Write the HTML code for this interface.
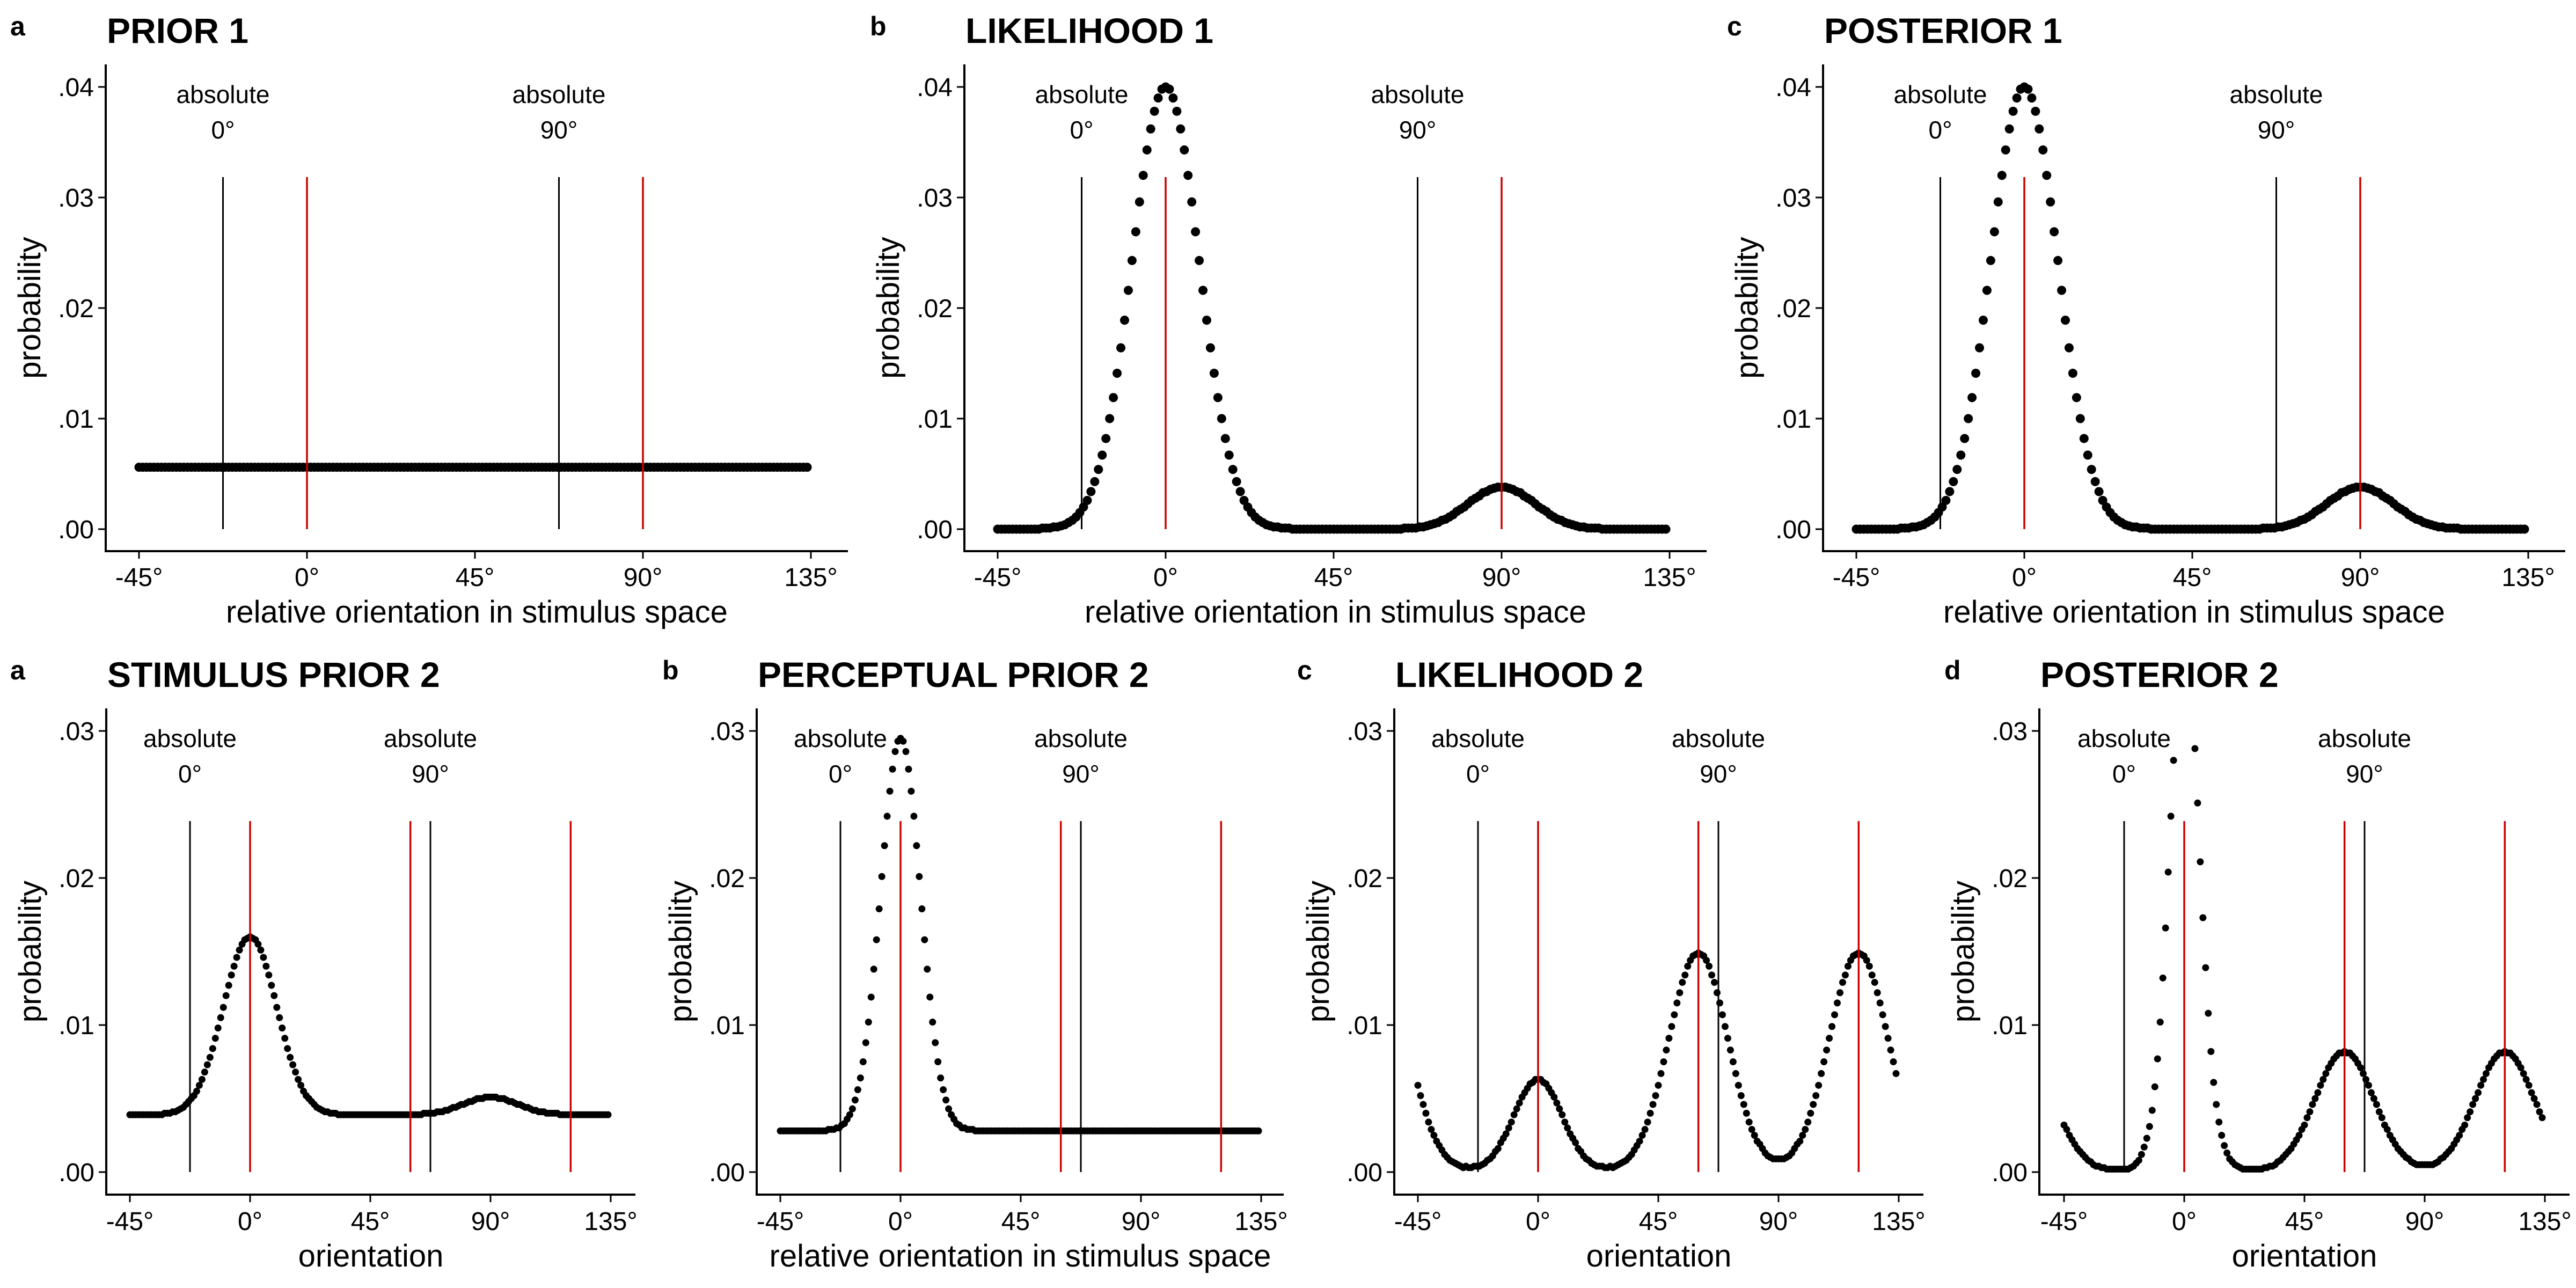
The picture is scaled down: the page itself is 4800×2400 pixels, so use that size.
<!DOCTYPE html>
<html>
<head>
<meta charset="utf-8">
<style>
  html,body{margin:0;padding:0;background:#fff;}
  svg{display:block;font-family:"Liberation Sans", Arial, sans-serif;}
</style>
</head>
<body>
<svg id="chart" width="4800" height="2400" viewBox="0 0 4800 2400" xmlns="http://www.w3.org/2000/svg">
  <rect x="0" y="0" width="4800" height="2400" fill="#ffffff"/>
</svg>
<script>
// ---------- data (probability values in units of 0.0001) ----------
const VALUE_UNIT = 1e-4;
const orientations = Array.from({length:180}, (_, i) => i - 45);

const xTickValues = [-45, 0, 45, 90, 135];
const xTickLabels = ['-45°', '0°', '45°', '90°', '135°'];
const topYTickValues = [0, 0.01, 0.02, 0.03, 0.04];
const topYTickLabels = ['.00', '.01', '.02', '.03', '.04'];
const bottomYTickValues = [0, 0.01, 0.02, 0.03];
const bottomYTickLabels = ['.00', '.01', '.02', '.03'];
const absoluteLineOrientations = [-22.5, 67.5];
const absoluteLineLabels = ['0°', '90°'];
const redLinesRow1 = [0, 90];
const redLinesRow2 = [0, 60, 120];

const prior1Values = [
56,56,56,56,56,56,56,56,56,56, 56,56,56,56,56,56,56,56,56,56,
56,56,56,56,56,56,56,56,56,56, 56,56,56,56,56,56,56,56,56,56,
56,56,56,56,56,56,56,56,56,56, 56,56,56,56,56,56,56,56,56,56,
56,56,56,56,56,56,56,56,56,56, 56,56,56,56,56,56,56,56,56,56,
56,56,56,56,56,56,56,56,56,56, 56,56,56,56,56,56,56,56,56,56,
56,56,56,56,56,56,56,56,56,56, 56,56,56,56,56,56,56,56,56,56,
56,56,56,56,56,56,56,56,56,56, 56,56,56,56,56,56,56,56,56,56,
56,56,56,56,56,56,56,56,56,56, 56,56,56,56,56,56,56,56,56,56,
56,56,56,56,56,56,56,56,56,56, 56,56,56,56,56,56,56,56,56,56];

const likelihood1Values = [
0,0,0,0,0,0,0,0,0,0,0,0,
1,1,1,2,2,3,4,6,8,11,15,20,26,34,43,54,67,82,100,119,141,164,189,216,243,269,296,320,343,362,378,390,398,
400,
398,390,378,362,343,320,296,269,243,216,189,164,141,119,100,82,67,54,43,34,26,20,15,11,8,6,4,3,2,2,1,1,1,
0,0,0,0,0,0,0,0,0,0,0,0,0,0,0,0,0,0,0,0,0,0,0,0,0,0,0,0,0,0,
1,1,1,1,2,2,3,4,5,6,8,9,11,13,16,18,20,23,26,28,30,33,34,36,37,38,38,
38,37,36,34,33,30,28,26,23,20,18,16,13,11,9,8,6,5,4,3,2,2,1,1,1,1,
0,0,0,0,0,0,0,0,0,0,0,0,0,0,0,0,0,0];

const posterior1Values = [
0,0,0,0,0,0,0,0,0,0,0,0,
1,1,1,2,2,3,4,6,8,11,15,20,26,34,43,54,67,82,100,119,141,164,189,216,243,269,296,320,343,362,378,390,398,
400,
398,390,378,362,343,320,296,269,243,216,189,164,141,119,100,82,67,54,43,34,26,20,15,11,8,6,4,3,2,2,1,1,1,
0,0,0,0,0,0,0,0,0,0,0,0,0,0,0,0,0,0,0,0,0,0,0,0,0,0,0,0,0,0,
1,1,1,1,2,2,3,4,5,6,8,9,11,13,16,18,20,23,26,28,30,33,34,36,37,38,38,
38,37,36,34,33,30,28,26,23,20,18,16,13,11,9,8,6,5,4,3,2,2,1,1,1,1,
0,0,0,0,0,0,0,0,0,0,0,0,0,0,0,0,0,0];

const stimulusPrior2Values = [
39,39,39,39,39,39,39,39,39,39,39,39,39,
40,40,40,41,41,42,43,44,46,48,50,52,55,59,63,68,73,78,84,91,98,105,112,120,127,134,140,146,151,155,158,159,
160,
159,158,155,151,146,140,134,127,120,112,105,98,91,84,78,73,68,63,59,55,52,50,48,46,44,43,42,41,41,40,40,40,
39,39,39,39,39,39,39,39,39,39,39,39,39,39,39,39,39,39,39,39,39,39,39,39,39,39,39,39,39,39,39,
39,40,40,40,40,40,41,41,41,42,42,43,44,44,45,46,46,47,48,48,49,50,50,50,51,51,51,
51,51,50,50,50,49,48,48,47,46,46,45,44,44,43,42,42,41,41,41,40,40,40,40,40,39,
39,39,39,39,39,39,39,39,39,39,39,39,39,39,39,39,39,39];

const perceptualPrior2Values = [
28,28,28,28,28,28,28,28,28,28,28,28,28,28,28,28,28,28,
29,29,29,30,30,32,33,36,39,43,49,56,64,75,88,102,119,138,158,179,201,222,242,259,274,286,293,
295,
293,286,274,259,242,222,201,179,158,138,119,102,88,75,64,56,49,43,39,36,33,32,30,30,29,29,29,
28,28,28,28,28,28,28,28,28,28,28,28,28,28,28,28,28,28,28,28,28,28,28,28,28,28,28,28,28,28,
28,28,28,28,28,28,28,28,28,28,28,28,28,28,28,28,28,28,28,28,28,28,28,28,28,28,28,28,28,28,
28,28,28,28,28,28,28,28,28,28,28,28,28,28,28,28,28,28,28,28,28,28,28,28,28,28,28,28,28,28,
28,28,28,28,28,28,28,28,28,28,28,28,28,28,28,28,28];

const likelihood2Values = [
59,52,46,40,34,29,25,21,18,15,12,10,8,7,6,5,4,3,4,3,3,4,4,4,
5,6,8,9,11,14,16,20,23,26,30,34,39,43,47,51,54,57,60,61,63,63,
63,61,60,57,54,51,47,43,39,34,30,26,23,20,16,14,11,9,8,6,5,4,4,4,3,3,4,3,4,5,
6,7,8,10,12,15,18,21,25,29,34,40,46,52,59,67,75,83,91,99,107,115,122,129,134,140,144,147,148,149,
148,147,144,140,134,129,122,115,107,99,91,83,75,67,59,52,46,40,34,29,25,21,19,16,13,11,10,9,9,9,
9,9,10,11,13,16,19,21,25,29,34,40,46,52,59,67,75,83,91,99,107,115,122,129,134,140,144,147,148,149,
148,147,144,140,134,129,122,115,107,99,91,83,75,67];

const posterior2Values = [
32,29,25,22,19,16,14,12,10,8,7,5,4,4,3,3,2,2,
2,2,2,2,2,2,
2,3,4,6,8,12,17,
23,31,42,58,77,102,132,166,204,242,280,
330,345,355,360,355,345,330,
288,251,211,173,139,108,82,61,46,34,25,
18,13,9,7,5,4,3,
2,2,2,2,2,2,
2,2,3,
3,4,4,5,7,8,10,12,14,16,19,22,25,29,32,37,41,46,50,54,59,63,67,71,74,77,79,81,81,82,
81,81,79,77,74,71,67,63,59,54,50,46,41,37,32,29,25,22,19,16,14,12,10,9,7,6,5,5,5,5,
5,5,5,6,7,9,10,12,14,16,19,22,25,29,32,37,41,46,50,54,59,63,67,71,74,77,79,81,81,82,
81,81,79,77,74,71,67,63,59,54,50,46,41,37];

// ---------- layout ----------
const TOP = {oy:0, axisTop:120, axisBottom:1027, zeroY:986, yPer:20600, ymax:0.0422, r:8.5, lineTop:330};
const BOT = {oy:1200, axisTop:120, axisBottom:1026, zeroY:984, yPer:27400, ymax:0.0316, r:6.5, lineTop:330};

const panels = [
  {id:'prior-1', letter:'a', letterX:19, title:'PRIOR 1', ox:0, row:TOP, left:197, x0:259, deg:313/45, right:1580, xTitle:'relative orientation in stimulus space', values:prior1Values, reds:redLinesRow1, yv:topYTickValues, yl:topYTickLabels},
  {id:'likelihood-1', letter:'b', letterX:21, title:'LIKELIHOOD 1', ox:1600, row:TOP, left:197, x0:259, deg:313/45, right:1580, xTitle:'relative orientation in stimulus space', values:likelihood1Values, reds:redLinesRow1, yv:topYTickValues, yl:topYTickLabels},
  {id:'posterior-1', letter:'c', letterX:18, title:'POSTERIOR 1', ox:3200, row:TOP, left:197, x0:259, deg:313/45, right:1580, xTitle:'relative orientation in stimulus space', values:posterior1Values, reds:redLinesRow1, yv:topYTickValues, yl:topYTickLabels},
  {id:'stimulus-prior-2', letter:'a', letterX:19, title:'STIMULUS PRIOR 2', ox:0, row:BOT, left:198, x0:242, deg:224/45, right:1184, xTitle:'orientation', values:stimulusPrior2Values, reds:redLinesRow2, yv:bottomYTickValues, yl:bottomYTickLabels},
  {id:'perceptual-prior-2', letter:'b', letterX:34, title:'PERCEPTUAL PRIOR 2', ox:1200, row:BOT, left:210, x0:254, deg:224/45, right:1192, xTitle:'relative orientation in stimulus space', values:perceptualPrior2Values, reds:redLinesRow2, yv:bottomYTickValues, yl:bottomYTickLabels},
  {id:'likelihood-2', letter:'c', letterX:17, title:'LIKELIHOOD 2', ox:2400, row:BOT, left:198, x0:242, deg:224/45, right:1184, xTitle:'orientation', values:likelihood2Values, reds:redLinesRow2, yv:bottomYTickValues, yl:bottomYTickLabels},
  {id:'posterior-2', letter:'d', letterX:23, title:'POSTERIOR 2', ox:3600, row:BOT, left:200, x0:246, deg:224/45, right:1188, xTitle:'orientation', values:posterior2Values, reds:redLinesRow2, yv:bottomYTickValues, yl:bottomYTickLabels}
];

const NS = 'http://www.w3.org/2000/svg';
const svg = document.getElementById('chart');
function mk(tag, attrs, parent){
  const e = document.createElementNS(NS, tag);
  for (const k in attrs) e.setAttribute(k, attrs[k]);
  parent.appendChild(e);
  return e;
}

panels.forEach(p => {
  const R = p.row;
  const g = mk('g', {transform:'translate(' + p.ox + ',' + R.oy + ')'}, svg);
  
  
  const X = v => p.x0 + (v + 45) * p.deg;
  const Y = v => R.zeroY - v * R.yPer;

  const letter = mk('text', {x:p.letterX, y:66, 'font-size':50, 'font-weight':'bold', fill:'#000'}, g);
  letter.textContent = p.letter;
  
  

  const title = mk('text', {x:p.left + 2, y:80, 'font-size':66, 'font-weight':'bold', fill:'#000'}, g);
  title.textContent = p.title;
  
  

  const dots = mk('g', {fill:'#000'}, g);
  
  
  orientations.forEach((o, i) => {
    const v = p.values[i] * VALUE_UNIT;
    if (v > R.ymax) return;
    const c = mk('circle', {cx:X(o).toFixed(2), cy:Y(v).toFixed(2), r:R.r}, dots);
    
    
  });

  absoluteLineOrientations.forEach((o, k) => {
    const ln = mk('line', {x1:X(o), x2:X(o), y1:R.zeroY, y2:R.lineTop, stroke:'#000', 'stroke-width':3}, g);
    
    
    const t1 = mk('text', {x:X(o), y:192, 'font-size':46, 'text-anchor':'middle', fill:'#000'}, g);
    t1.textContent = 'absolute';
    
    
    const t2 = mk('text', {x:X(o), y:258, 'font-size':46, 'text-anchor':'middle', fill:'#000'}, g);
    t2.textContent = absoluteLineLabels[k];
    
    
  });
  p.reds.forEach(o => {
    const ln = mk('line', {x1:X(o), x2:X(o), y1:R.zeroY, y2:R.lineTop, stroke:'#cc0000', 'stroke-width':3.5}, g);
    
    
  });

  const ya = mk('line', {x1:p.left, x2:p.left, y1:R.axisTop, y2:R.axisBottom + 2, stroke:'#000', 'stroke-width':4}, g);
  
  
  const xa = mk('line', {x1:p.left - 2, x2:p.right, y1:R.axisBottom, y2:R.axisBottom, stroke:'#000', 'stroke-width':4}, g);
  
  

  p.yv.forEach((v, k) => {
    const tk = mk('line', {x1:p.left - 14, x2:p.left, y1:Y(v), y2:Y(v), stroke:'#000', 'stroke-width':3}, g);
    
    
    const tl = mk('text', {x:p.left - 22, y:Y(v) + 17, 'font-size':48, 'text-anchor':'end', fill:'#000'}, g);
    tl.textContent = p.yl[k];
    
    
  });
  xTickValues.forEach((v, k) => {
    const tk = mk('line', {x1:X(v), x2:X(v), y1:R.axisBottom, y2:R.axisBottom + 14, stroke:'#000', 'stroke-width':3}, g);
    
    
    const tl = mk('text', {x:X(v), y:1092, 'font-size':48, 'text-anchor':'middle', fill:'#000'}, g);
    tl.textContent = xTickLabels[k];
    
    
  });

  const xt = mk('text', {x:(p.left + p.right) / 2, y:1160, 'font-size':58, 'text-anchor':'middle', fill:'#000'}, g);
  xt.textContent = p.xTitle;
  
  

  const cy = (R.axisTop + R.axisBottom) / 2;
  const yt = mk('text', {x:0, y:0, 'font-size':58, 'text-anchor':'middle', fill:'#000', transform:'translate(' + (p.left - 122) + ',' + cy + ') rotate(-90)'}, g);
  yt.textContent = 'probability';
  
  
});
</script>
</body>
</html>
